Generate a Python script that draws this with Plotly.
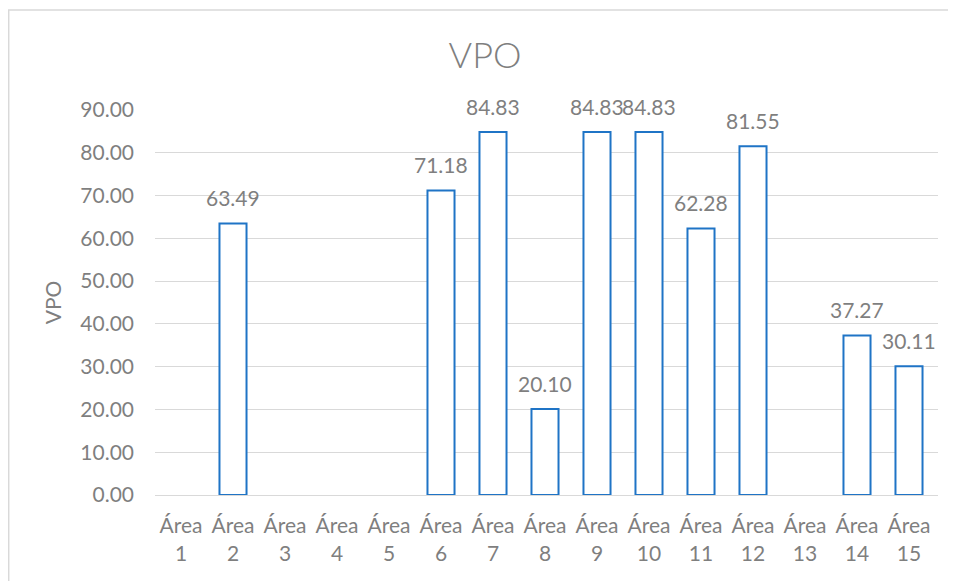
import plotly.graph_objects as go

categories = [f"Área<br>{i}" for i in range(1, 16)]
values = [None, 63.49, None, None, None, 71.18, 84.83, 20.10, 84.83, 84.83, 62.28, 81.55, None, 37.27, 30.11]
y_ticks = [0, 10, 20, 30, 40, 50, 60, 70, 80, 90]

# the page body has an 8px margin, so the figure is laid out in page coords - 8
OFF = 8
W, H = 956 - OFF, 581 - OFF
ML = 155 - OFF
MT = 110 - OFF
MR = W - (938 - OFF)
MB = H - (495 - OFF)
pw, ph = W - ML - MR, H - MT - MB

font_family = "Lato, Calibri, Arial, sans-serif"
gray = "#7f7f7f"
grid = "#d9d9d9"
blue = "#1f74c6"
fs = 21

fig = go.Figure()
fig.add_trace(go.Bar(
    x=categories, y=values,
    marker=dict(color="white", line=dict(color=blue, width=2)),
    hoverinfo="skip",
))

for c, v in zip(categories, values):
    if v is None:
        continue
    fig.add_annotation(x=c, y=v, text=f"{v:.2f}", showarrow=False,
                       yshift=26, yanchor="middle",
                       font=dict(family=font_family, size=fs, color=gray))

def px_x(p):
    return (p - OFF - ML) / pw

def px_y(p):
    return (H - MB - (p - OFF)) / ph

# outer chart frame (cut off on right & bottom as in the reference)
fig.add_shape(type="path", xref="paper", yref="paper",
              path=f"M {px_x(8.7)} {px_y(590)} L {px_x(8.7)} {px_y(10)} L {px_x(970)} {px_y(10)}",
              line=dict(color=grid, width=1.5))

fig.update_layout(
    width=W, height=H,
    margin=dict(l=ML, r=MR, t=MT, b=MB),
    paper_bgcolor="white", plot_bgcolor="white",
    bargap=0.48,
    showlegend=False,
    title=dict(text="VPO", x=(485 - OFF) / W, xanchor="center", xref="container",
               y=1 - (55 - OFF) / H, yanchor="middle", yref="container",
               font=dict(family=font_family, size=36, color=gray, weight=300)),
    xaxis=dict(showgrid=False, showline=True, linecolor=grid, linewidth=1,
               ticks="", ticklabelstandoff=12,
               tickfont=dict(family=font_family, size=fs, color=gray),
               fixedrange=True),
    yaxis=dict(range=[0, 90], tickvals=y_ticks, tickformat=".2f",
               showgrid=True, gridcolor=grid, gridwidth=1,
               zeroline=False, showline=False,
               ticks="", ticklabelstandoff=20,
               tickfont=dict(family=font_family, size=fs, color=gray),
               title=dict(text="VPO", standoff=12,
                          font=dict(family=font_family, size=fs, color=gray)),
               fixedrange=True),
)

fig.write_html("out.html")
